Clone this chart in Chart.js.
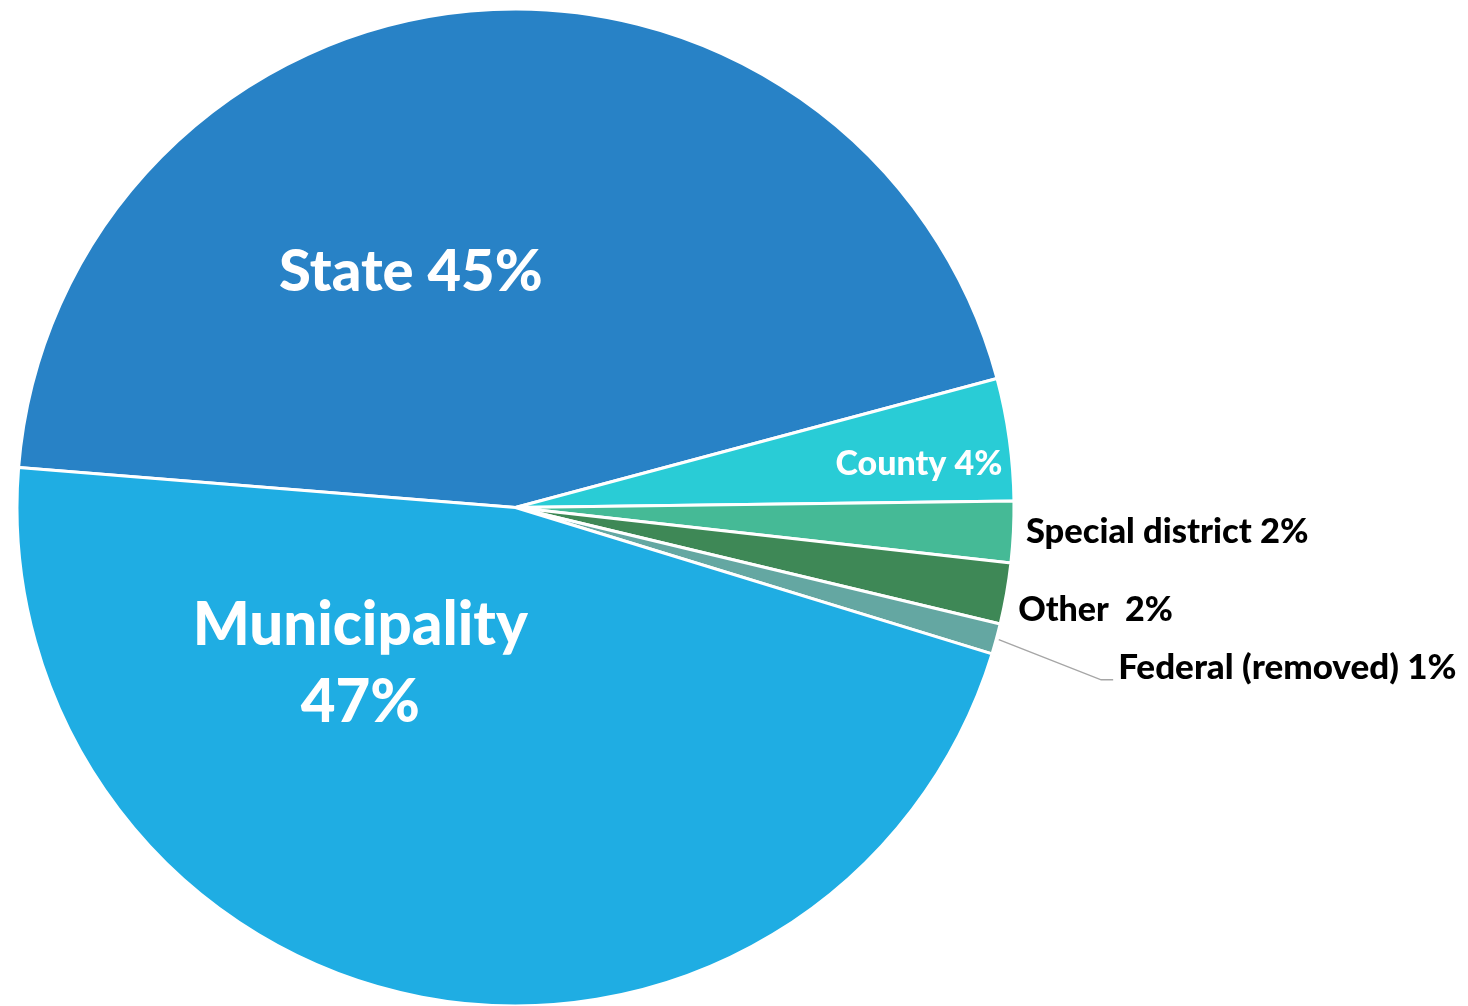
<!DOCTYPE html>
<html>
<head>
<meta charset="utf-8">
<title>Ownership share</title>
<script src="https://cdn.jsdelivr.net/npm/chart.js@4.4.1/dist/chart.umd.min.js"></script>
<style>
    html, body { margin: 0; padding: 0; background: #ffffff; }
    #wrap { width: 1468px; height: 1006px; }
</style>
</head>
<body>
<div id="wrap"><canvas id="pieChart" width="1468" height="1006"></canvas></div>
<script>
// Share of ownership, in percent
const categories = ['State', 'County', 'Special district', 'Other', 'Federal (removed)', 'Municipality'];
const shares = [45, 4, 2, 2, 1, 47];
const sliceColors = ['#2882C6', '#29CCD6', '#45BA96', '#3E8856', '#64A7A2', '#1FADE3'];

// Label styling per slice: angle (deg, clockwise from top), distance (fraction of radius)
const labelStyles = [
    { angle: 336, dist: 0.516, size: 58, color: '#ffffff', align: 'center' },
    { angle: 83.8, dist: 0.814, size: 34, color: '#ffffff', align: 'center' },
    { angle: 92.7, dist: 1.025, size: 34.5, color: '#000000', align: 'left' },
    { angle: 101.5, dist: 1.029, size: 34, color: '#000000', align: 'left' },
    { angle: 104.9, dist: 1.251, size: 35, color: '#000000', align: 'left', leader: true },
    { angle: 224.8, dist: 0.442, size: 60, color: '#ffffff', align: 'center', lineHeight: 77 }
];

function labelLines(i) {
    const pct = shares[i] + '%';
    if (categories[i] === 'Municipality') return [categories[i], pct];
    if (categories[i] === 'Other') return [categories[i] + '  ' + pct];
    return [categories[i] + ' ' + pct];
}

// Draws the slice labels (and the leader line for the thin slice)
const sliceLabels = {
    id: 'sliceLabels',
    afterDatasetsDraw(chart) {
        const ctx = chart.ctx;
        const arcs = chart.getDatasetMeta(0).data;
        ctx.save();
        arcs.forEach((arc, i) => {
            const st = labelStyles[i];
            const r = arc.outerRadius;
            const a = st.angle * Math.PI / 180;
            const x = arc.x + Math.sin(a) * r * st.dist;
            const y = arc.y - Math.cos(a) * r * st.dist;
            const lines = labelLines(i);

            if (st.leader) {
                const mid = (arc.startAngle + arc.endAngle) / 2;
                const sx = arc.x + Math.cos(mid) * r * 1.005;
                const sy = arc.y + Math.sin(mid) * r * 1.005;
                ctx.strokeStyle = '#A6A6A6';
                ctx.lineWidth = 1.5;
                ctx.beginPath();
                ctx.moveTo(sx, sy);
                ctx.lineTo(x - 17, y + 12);
                ctx.lineTo(x - 5, y + 12);
                ctx.stroke();
            }

            ctx.font = '900 ' + st.size + 'px Lato, "Open Sans", sans-serif';
            ctx.fillStyle = st.color;
            ctx.textAlign = st.align;
            ctx.textBaseline = 'middle';
            const lh = st.lineHeight || st.size * 1.2;
            const top = y - (lines.length - 1) * lh / 2;
            lines.forEach((line, k) => ctx.fillText(line, x, top + k * lh));
        });
        ctx.restore();
    }
};

const chart = new Chart(document.getElementById('pieChart'), {
    type: 'pie',
    data: {
        labels: categories,
        datasets: [{
            data: shares,
            backgroundColor: sliceColors,
            borderColor: '#ffffff',
            borderWidth: 3
        }]
    },
    options: {
        responsive: false,
        animation: false,
        events: [],
        rotation: 274.6,
        radius: 498.5,
        layout: {
            padding: { left: 17, right: 454, top: 9, bottom: 0 }
        },
        plugins: {
            legend: { display: false },
            tooltip: { enabled: false }
        }
    },
    plugins: [sliceLabels]
});
</script>
</body>
</html>
